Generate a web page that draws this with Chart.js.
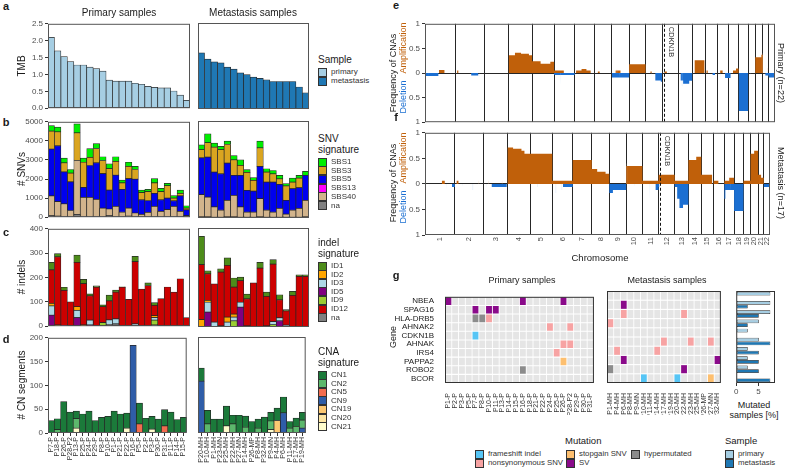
<!DOCTYPE html>
<html>
<head>
<meta charset="utf-8">
<title>Mutational landscape overview</title>
<script src="https://cdn.jsdelivr.net/npm/chart.js@4.4.1/dist/chart.umd.min.js"></script>
<style>
  body { margin: 0; background: #fff; }
  #page { position: relative; width: 785px; height: 470px; overflow: hidden;
          font-family: "Liberation Sans", Arial, sans-serif; color: #1a1a1a; }
  .lbl { position: absolute; white-space: nowrap; line-height: 1; }
  .sw { position: absolute; width: 7px; height: 7px; border: 1px solid #333; }
</style>
</head>
<body>
<div id="page"></div>
<script>
// ---------------- data ----------------
const primaryIds = ['P7-P','P18-P','P26-P','P28-P2','P13-P','P25-P','P24-P','P29-P','P8-P','P10-P','P1-P',
  'P21-P','P22-P','P16-P','P5-P','P2-P','P3-P','P30-P','P31-P','P11-P','P14-P','P15-P'];
const metaIds = ['P20-MH','P10-MH','P1-MH','P23-MN','P25-MH','P22-MH','P27-MN','P14-MH','P26-MP','P8-MH',
  'P32-MH','P9-MN','P4-MH','P6-MH','P11-MH','P17-MH','P19-MH'];

// panel a: tumour mutational burden
const tmbPrimary = [2.10,1.70,1.53,1.38,1.28,1.28,1.22,1.17,1.10,0.83,0.80,0.80,0.80,0.74,0.71,0.65,0.62,0.60,0.60,0.51,0.39,0.23];
const tmbMeta = [1.63,1.45,1.37,1.34,1.22,1.16,1.05,1.00,0.93,0.89,0.85,0.80,0.80,0.80,0.80,0.64,0.47];

// panel b: SNV signatures (counts)
const snvNaP    = [80,60,40,40,150,50,40,40,40,80,40,40,60,40,30,40,50,40,40,40,40,20];
const snvS40P   = [1035,760,660,310,2820,995,1005,900,440,350,530,220,420,180,120,210,520,270,360,530,270,60];
const snvS13P   = [0,0,0,0,0,0,0,0,0,0,0,0,0,0,0,0,0,0,0,0,0,0];
const snvS5P    = [2455,2920,1670,1500,0,515,1665,1910,1800,990,1630,1200,1540,1770,760,625,680,600,600,290,805,300];
const snvS3P    = [940,737,480,465,1455,1320,430,750,690,1120,730,340,640,510,380,465,550,430,650,140,135,100];
const snvS1P    = [290,240,250,185,465,220,460,260,200,260,240,140,220,160,130,120,220,170,120,130,170,120];
const snvNaM    = [60,60,40,40,60,60,40,40,40,60,40,40,40,40,40,40,60];
const snvS40M   = [1140,1020,530,360,850,1110,530,260,260,940,360,260,460,160,360,460,850];
const snvS13M   = [0,0,0,0,0,0,0,0,0,0,0,0,0,0,0,0,0];
const snvS5M    = [1900,2060,1800,1880,1920,1030,1630,1120,1090,1660,1450,1550,1230,710,1110,1060,1290];
const snvS3M    = [420,740,1280,1240,960,800,510,930,550,960,520,430,290,740,340,500,0];
const snvS1M    = [250,460,210,170,170,220,290,140,140,340,170,170,180,120,210,140,200];

// panel c: indel signatures (counts)
const idNaP  = [0,0,0,0,0,0,0,0,0,8,10,0,0,0,0,0,5,0,0,0,0,0];
const id5P   = [45,0,3,0,35,0,5,0,0,0,0,0,0,0,0,0,0,0,0,0,0,0];
const id9P   = [0,0,0,0,0,0,0,0,15,0,0,0,0,0,0,0,20,0,0,0,0,0];
const id3P   = [38,0,0,0,30,0,20,0,0,18,20,0,0,10,0,0,10,0,0,0,0,0];
const id2P   = [11,5,0,0,15,5,0,0,0,0,0,0,0,0,0,0,8,0,0,0,0,0];
const id12P  = [137,280,144,100,182,170,100,160,65,78,110,160,110,255,152,167,43,113,161,140,195,35];
const id1P   = [31,13,13,0,30,17,8,6,8,24,8,2,0,22,0,11,11,0,0,0,0,0];
const idNaM  = [0,0,0,0,0,0,0,0,0,0,0,0,0,0,0,0,0];
const id5M   = [0,60,0,0,0,0,80,0,0,0,0,0,25,0,0,0,0];
const id9M   = [0,0,0,0,0,25,0,0,0,0,0,10,0,0,0,0,0];
const id3M   = [0,40,20,0,20,15,20,0,0,0,5,12,12,8,0,0,0];
const id2M   = [30,8,0,5,20,12,0,5,0,0,0,0,0,0,0,0,0];
const id12M  = [222,107,154,217,209,109,87,109,178,238,119,232,73,57,128,205,205];
const id1M   = [114,12,0,13,30,37,15,19,0,23,17,18,20,5,16,6,6];

// panel d: copy-number signatures (segments)
const cn21P = [0,0,0,0,10,0,0,0,0,0,0,0,10,0,0,0,8,0,0,0,0,0];
const cn9P  = [0,0,0,0,0,0,0,0,0,0,0,0,0,184,0,0,0,0,0,0,0,0];
const cn5P  = [0,0,0,0,0,0,0,0,0,0,0,0,0,0,19,0,0,0,15,0,0,0];
const cn2P  = [0,7,0,0,20,0,0,0,0,0,0,0,0,0,0,0,0,0,0,0,0,0];
const cn1P  = [26,23,66,44,16,40,46,26,33,35,46,40,32,0,44,31,27,29,34,44,28,33];
const cn21M = [0,0,0,0,15,0,0,0,0,0,0,7,0,0,0,0,0];
const cn19M = [0,0,0,0,0,0,0,0,0,0,0,0,26,0,0,0,0];
const cn9M  = [108,0,0,0,0,0,0,0,0,0,0,0,0,42,0,0,10];
const cn2M  = [0,19,0,0,0,19,0,12,0,10,0,18,0,0,10,14,17];
const cn1M  = [27,28,29,29,41,18,37,23,24,19,33,18,26,33,14,17,16];

// panels e/f: CNA frequency segments [chromosome, start Mb, end Mb, frequency]
const chrLen = [249.3,243.2,198.0,191.2,180.9,171.1,159.1,146.4,141.2,135.5,135.0,133.9,115.2,107.3,102.5,90.4,81.2,78.1,59.1,63.0,48.1,51.3];
const cdkn1b = [12, 12.9];
const ampPrimary = [[1,115,160,0.06],[2,15,25,0.05],[4,0,50,0.36],[4,50,100,0.41],[4,100,165,0.39],[4,165,191,0.36],
  [5,0,70,0.24],[5,70,150,0.19],[5,150,181,0.23],[6,0,80,0.05],[7,10,55,0.05],[7,55,95,0.08],[7,95,130,0.05],
  [8,30,45,0.03],[9,30,70,0.05],[10,0,135,0.18],[11,40,50,0.03],[12,20,40,0.03],[14,20,100,0.26],[15,10,20,0.05],
  [16,20,40,0.05],[17,35,60,0.05],[17,60,81,0.09],[20,0,50,0.32],[20,50,63,0.37]];
const delPrimary = [[1,0,110,0.06],[2,131,189,0.05],[6,0,170,0.04],[9,0,141,0.09],[11,80,125,0.15],[11,125,135,0.18],
  [13,20,40,0.15],[13,40,90,0.22],[13,90,115,0.16],[15,60,80,0.04],[16,60,90,0.1],[17,0,15,0.1],[18,2,78,0.77],
  [21,20,48,0.05],[22,0,51,0.09]];
const ampSpikesPrimary = [[1,20,22,0.05],[1,60,62,0.06],[2,60,62,0.12],[2,105,107,0.2],[3,95,97,0.05],[3,150,152,0.07],
  [5,165,167,0.32],[7,60,62,0.12],[9,40,42,0.07],[11,30,32,0.09],[12,60,62,0.05],[14,10,12,0.3],[15,20,22,0.08],
  [17,70,72,0.12],[20,55,57,0.4],[21,40,42,0.1]];
const delSpikesPrimary = [[1,30,32,0.12],[2,200,202,0.1],[6,50,52,0.27],[9,60,62,0.1],[11,50,52,0.08],[13,30,32,0.27],
  [16,20,22,0.12],[19,20,22,0.06],[21,10,12,0.1]];
const ampMeta = [[1,140,165,0.06],[2,15,30,0.06],[4,0,45,0.71],[4,45,115,0.69],[4,115,140,0.65],[4,140,191,0.59],
  [5,0,181,0.59],[6,0,171,0.06],[7,0,159,0.47],[8,0,45,0.29],[8,45,115,0.24],[8,115,146,0.2],[10,0,135,0.35],
  [11,0,135,0.06],[12,0,134,0.18],[13,0,115,0.06],[14,0,65,0.47],[14,65,107,0.53],[15,0,90,0.18],[16,0,40,0.06],
  [17,0,40,0.06],[17,40,81,0.12],[19,0,59,0.06],[20,0,30,0.59],[20,30,63,0.65],[21,0,25,0.18],[21,25,48,0.12]];
const delMeta = [[1,225,249,0.06],[3,65,190,0.06],[6,90,171,0.06],[9,0,30,0.18],[9,30,141,0.12],[11,110,135,0.12],
  [12,0,5,0.06],[13,0,21,0.06],[13,21,40,0.29],[13,40,70,0.47],[13,70,115,0.41],[17,0,8,0.29],[17,8,81,0.12],
  [18,0,78,0.53],[22,0,51,0.06]];
const ampSpikesMeta = [[1,55,57,0.12],[1,120,122,0.1],[2,40,42,0.1],[2,200,202,0.06],[3,40,42,0.06],[3,150,152,0.06],
  [4,100,102,0.72],[5,100,102,0.62],[6,160,162,0.17],[7,80,82,0.5],[10,5,7,0.4],[11,30,32,0.12],[12,5,7,0.22],
  [14,40,42,0.59],[16,60,62,0.06],[20,25,27,0.7],[21,10,12,0.18]];
const delSpikesMeta = [[1,40,42,0.06],[1,180,182,0.12],[2,60,62,0.06],[2,150,152,0.12],[3,20,22,0.1],[5,60,62,0.06],
  [6,30,32,0.18],[6,80,82,0.12],[10,70,72,0.06],[11,60,62,0.35],[17,50,52,0.18],[18,75,77,0.6]];

// panel g: recurrently mutated genes
const genes = ['NBEA','SPAG16','HLA-DRB5','AHNAK2','CDKN1B','AHNAK','IRS4','PAPPA2','ROBO2','BCOR'];
const heatPrimaryIds = ['P1-P','P2-P','P3-P','P5-P','P7-P','P8-P','P10-P','P11-P','P13-P','P14-P','P15-P','P16-P',
  'P18-P','P21-P','P22-P','P24-P','P25-P','P26-P','P28-P2','P29-P','P30-P','P31-P'];
const heatMetaIds = ['P1-MH','P4-MH','P6-MH','P8-MH','P9-MN','P10-MH','P11-MH','P14-MH','P17-MH','P19-MH','P20-MH',
  'P22-MH','P23-MH','P25-MH','P26-MP','P27-MN','P32-MH'];
const mutPrimary = [['NBEA','P1-P','SV'],['NBEA','P16-P','SV'],['NBEA','P26-P','SV'],
  ['SPAG16','P7-P','SV'],['SPAG16','P10-P','SV'],['SPAG16','P11-P','SV'],
  ['HLA-DRB5','P7-P','hyper'],['HLA-DRB5','P8-P','hyper'],['HLA-DRB5','P10-P','nonsyn'],
  ['AHNAK2','P24-P','nonsyn'],['AHNAK2','P28-P2','nonsyn'],['CDKN1B','P7-P','frameshift'],
  ['AHNAK','P26-P','nonsyn'],['AHNAK','P28-P2','nonsyn'],['IRS4','P25-P','nonsyn'],
  ['PAPPA2','P26-P','stopgain'],['ROBO2','P16-P','hyper']];
const mutMeta = [['SPAG16','P6-MH','SV'],['HLA-DRB5','P6-MH','nonsyn'],['HLA-DRB5','P22-MH','nonsyn'],
  ['AHNAK2','P1-MH','nonsyn'],['AHNAK','P17-MH','nonsyn'],['AHNAK','P23-MH','nonsyn'],['AHNAK','P27-MN','nonsyn'],
  ['IRS4','P4-MH','nonsyn'],['IRS4','P14-MH','nonsyn'],['PAPPA2','P6-MH','SV'],['PAPPA2','P32-MH','SV'],
  ['ROBO2','P1-MH','hyper'],['ROBO2','P22-MH','SV'],['BCOR','P10-MH','frameshift'],['BCOR','P20-MH','frameshift'],
  ['BCOR','P27-MN','stopgain']];
const pctPrimary = [7.7,7.7,7.7,5.1,2.6,5.1,2.6,2.6,2.6,0];
const pctMeta = [0,2.6,5.1,2.6,0,7.7,5.1,5.1,5.1,7.7];

// ---------------- colours ----------------
const colPrimary = '#a6cee3', colMeta = '#1f78b4';
const snvCols = { SBS1: '#00ee00', SBS3: '#daa520', SBS5: '#0000ee', SBS13: '#ff00ff', SBS40: '#d2b48c', na: '#808080' };
const idCols = { ID1: '#4d8c1a', ID2: '#ffa500', ID3: '#add8e6', ID5: '#800080', ID9: '#9acd32', ID12: '#cc0000', na: '#808080' };
const cnCols = { CN1: '#1b7a3a', CN2: '#5cb86c', CN5: '#f26c4f', CN9: '#2f5da8', CN19: '#fdc872', CN20: '#fee6a3', CN21: '#fffccc' };
const ampCol = '#c0600a', delCol = '#1b6fd2';
const mutCols = { frameshift: '#56c5f5', nonsyn: '#f7a3a3', stopgain: '#fdbf6f', SV: '#8a0a8a', hyper: '#8c8c8c' };

// ---------------- helpers ----------------
const page = document.getElementById('page');

function canvasAt(x, y, w, h) {
  const c = document.createElement('canvas');
  c.width = w; c.height = h;
  Object.assign(c.style, { position: 'absolute', left: x + 'px', top: y + 'px', width: w + 'px', height: h + 'px' });
  page.appendChild(c);
  return c;
}

function text(s, x, y, o) {
  o = o || {};
  const d = document.createElement('div');
  d.className = 'lbl';
  d.innerHTML = s;
  d.style.left = x + 'px';
  d.style.top = y + 'px';
  d.style.fontSize = (o.size || 9) + 'px';
  if (o.color) d.style.color = o.color;
  if (o.bold) d.style.fontWeight = 'bold';
  let tf = o.left ? 'translate(0,-50%)' : 'translate(-50%,-50%)';
  if (o.rot) tf += ' rotate(' + o.rot + 'deg)';
  d.style.transform = tf;
  page.appendChild(d);
}

function swatch(x, y, col) {
  const d = document.createElement('div');
  d.className = 'sw';
  d.style.left = x + 'px';
  d.style.top = (y - 4.5) + 'px';
  d.style.background = col;
  page.appendChild(d);
}

function legend(x, y, title, items, step) {
  title.forEach((t, i) => text(t, x, y + i * 11, { size: 10, left: true }));
  let yy = y + title.length * 11 + 1;
  items.forEach(([name, col]) => {
    swatch(x, yy, col);
    text(name, x + 13, yy, { size: 8, left: true, color: '#333' });
    yy += step;
  });
}

Chart.defaults.font.family = '"Liberation Sans", Arial, sans-serif';
Chart.defaults.font.size = 8;
Chart.defaults.color = '#4d4d4d';
Chart.defaults.animation = false;
Chart.defaults.events = [];
Chart.defaults.plugins.legend.display = false;
Chart.defaults.plugins.tooltip.enabled = false;

// panel border, like a ggplot panel.border
Chart.register({
  id: 'frame',
  defaults: { color: '#555', width: 1 },
  afterDraw(chart, args, opts) {
    const a = chart.chartArea, ctx = chart.ctx;
    ctx.save();
    ctx.strokeStyle = opts.color;
    ctx.lineWidth = opts.width;
    ctx.strokeRect(a.left + 0.5, a.top + 0.5, a.right - a.left - 1, a.bottom - a.top - 1);
    ctx.restore();
  }
});

// stacked bar panel (a-d)
function stackPanel(x, y, w, h, labels, sets, yTicks, showY, fmt, xH) {
  const aw = showY ? 34 : 0, padT = 6, padR = 3, padB = xH ? 0 : 6;
  const cv = canvasAt(x - aw, y - padT, w + aw + padR, h + padT + (xH || padB));
  new Chart(cv, {
    type: 'bar',
    data: {
      labels,
      datasets: sets.map(([data, color]) => ({
        data, backgroundColor: color, borderColor: '#262626', borderWidth: 0.7,
        borderSkipped: false, categoryPercentage: 1, barPercentage: 1
      }))
    },
    options: {
      responsive: false,
      layout: { padding: { top: padT, right: padR, bottom: padB, left: 0 } },
      scales: {
        x: {
          stacked: true, display: !!xH, border: { display: false },
          grid: { offset: false, drawOnChartArea: false, tickLength: 3, tickColor: '#333' },
          ticks: { autoSkip: false, minRotation: 90, maxRotation: 90, padding: 1, font: { size: 7 }, color: '#333' },
          afterFit: s => { s.height = xH; }
        },
        y: {
          stacked: true, min: 0, max: yTicks[yTicks.length - 1], display: showY, border: { display: false },
          grid: { drawOnChartArea: false, tickLength: 3, tickColor: '#333' },
          afterBuildTicks: s => { s.ticks = yTicks.map(v => ({ value: v })); },
          ticks: { padding: 2, callback: fmt },
          afterFit: s => { s.width = aw; }
        }
      }
    }
  });
}

// chromosome coordinates
const chrStart = [];
chrLen.reduce((acc, l, i) => { chrStart[i] = acc; return acc + l; }, 0);
const genomeLen = chrLen.reduce((a, b) => a + b, 0);
const chrBounds = chrStart.slice(1);
const chrMids = chrStart.map((s, i) => s + chrLen[i] / 2);

function segPoints(segs, sign) {
  const pts = [];
  segs.map(([c, s, e, f]) => [chrStart[c - 1] + s, chrStart[c - 1] + e, f])
    .sort((a, b) => a[0] - b[0])
    .forEach(([x0, x1, f]) => {
      pts.push({ x: x0, y: 0 }, { x: x0, y: sign * f }, { x: x1, y: sign * f }, { x: x1, y: 0 });
    });
  return pts;
}

function cnaPanel(y, h, amp, del, ampSp, delSp, showChr) {
  const aw = 20, padT = 6, xH = showChr ? 14 : 0, padB = showChr ? 0 : 6;
  const cv = canvasAt(425 - aw, y - padT, 350 + aw + 3, h + padT + (showChr ? xH : padB));
  const area = (data, color) => ({ data, showLine: true, fill: 'origin', pointRadius: 0, borderWidth: 0, backgroundColor: color });
  const markX = chrStart[cdkn1b[0] - 1] + cdkn1b[1];
  new Chart(cv, {
    type: 'scatter',
    data: {
      datasets: [
        area(segPoints(ampSp, 1), '#efc4a0'), area(segPoints(delSp, -1), '#a9c9ef'),
        area(segPoints(amp, 1), ampCol), area(segPoints(del, -1), delCol)
      ]
    },
    options: {
      responsive: false,
      layout: { padding: { top: padT, right: 3, bottom: padB, left: 0 } },
      scales: {
        x: {
          type: 'linear', min: 0, max: genomeLen, border: { display: false },
          grid: { color: '#262626', lineWidth: 1, drawTicks: false },
          ticks: { display: false },
          afterBuildTicks: s => { s.ticks = chrBounds.map(v => ({ value: v })); },
          afterFit: s => { s.height = 0; }
        },
        xc: {
          type: 'linear', position: 'bottom', min: 0, max: genomeLen, display: showChr, border: { display: false },
          grid: { drawOnChartArea: false, drawTicks: false },
          afterBuildTicks: s => { s.ticks = chrMids.map(v => ({ value: v })); },
          ticks: { autoSkip: false, minRotation: 90, maxRotation: 90, padding: 2, font: { size: 7.5 },
                   callback: (v, i) => String(i + 1) },
          afterFit: s => { s.height = xH; }
        },
        y: {
          min: -1, max: 1, border: { display: false },
          grid: { color: c => (c.tick && c.tick.value === 0 ? '#262626' : 'rgba(0,0,0,0)'), tickColor: '#333', tickLength: 3 },
          afterBuildTicks: s => { s.ticks = [-1, -0.5, 0, 0.5, 1].map(v => ({ value: v })); },
          ticks: { padding: 2, callback: v => String(Math.abs(v)) },
          afterFit: s => { s.width = aw; }
        }
      }
    },
    plugins: [{
      id: 'cdkn',
      afterDatasetsDraw(chart) {
        const { ctx, chartArea: a } = chart;
        const px = Math.round(chart.scales.x.getPixelForValue(markX)) + 0.5;
        ctx.save();
        ctx.strokeStyle = '#111';
        ctx.lineWidth = 1;
        ctx.setLineDash([3, 2]);
        ctx.beginPath(); ctx.moveTo(px, a.top); ctx.lineTo(px, a.bottom); ctx.stroke();
        ctx.translate(px + 3, a.top + 3);
        ctx.rotate(Math.PI / 2);
        ctx.font = '7.5px "Liberation Sans", Arial, sans-serif';
        ctx.fillStyle = '#333';
        ctx.textBaseline = 'bottom';
        ctx.fillText('CDKN1B', 0, 0);
        ctx.restore();
      }
    }]
  });
}

function heatPanel(x, y, w, h, ids, muts, showGenes) {
  const aw = showGenes ? 52 : 0, xH = 32;
  const cv = canvasAt(x - aw, y - 2, w + aw + 2, h + 2 + xH);
  const typeOf = (g, s) => { const m = muts.find(r => r[0] === g && r[1] === s); return m ? m[2] : null; };
  new Chart(cv, {
    type: 'bar',
    data: {
      labels: ids,
      datasets: genes.map((g, gi) => ({
        data: ids.map(() => [gi + 0.06, gi + 0.94]),
        backgroundColor: ids.map(s => { const t = typeOf(g, s); return t ? mutCols[t] : '#e5e5e5'; }),
        borderWidth: 0, categoryPercentage: 1, barPercentage: 0.87, grouped: false
      }))
    },
    options: {
      responsive: false,
      layout: { padding: { top: 2, right: 2, bottom: 0, left: 0 } },
      plugins: { frame: { color: '#333' } },
      scales: {
        x: {
          border: { display: false }, grid: { display: false },
          ticks: { autoSkip: false, minRotation: 90, maxRotation: 90, padding: 2, font: { size: 7 }, color: '#333' },
          afterFit: s => { s.height = xH; }
        },
        y: {
          min: 0, max: genes.length, reverse: true, display: showGenes,
          border: { display: false }, grid: { display: false },
          afterBuildTicks: s => { s.ticks = genes.map((g, i) => ({ value: i + 0.5 })); },
          ticks: { autoSkip: false, padding: 3, font: { size: 8 }, color: '#1a1a1a', callback: (v, i) => genes[i] },
          afterFit: s => { s.width = aw; }
        }
      }
    }
  });
}

// ---------------- panels a-d ----------------
const fmt1 = v => v.toFixed(1), fmt0 = v => String(v);
const PX = 48, PW = 142, MX = 198, MW = 111;

stackPanel(PX, 23, PW, 86, primaryIds, [[tmbPrimary, colPrimary]], [0, 0.5, 1, 1.5, 2, 2.5], true, fmt1, 0);
stackPanel(MX, 23, MW, 86, metaIds, [[tmbMeta, colMeta]], [0, 0.5, 1, 1.5, 2, 2.5], false, fmt1, 0);

const snvSetsP = [[snvNaP, snvCols.na], [snvS40P, snvCols.SBS40], [snvS13P, snvCols.SBS13], [snvS5P, snvCols.SBS5], [snvS3P, snvCols.SBS3], [snvS1P, snvCols.SBS1]];
const snvSetsM = [[snvNaM, snvCols.na], [snvS40M, snvCols.SBS40], [snvS13M, snvCols.SBS13], [snvS5M, snvCols.SBS5], [snvS3M, snvCols.SBS3], [snvS1M, snvCols.SBS1]];
stackPanel(PX, 121, PW, 97, primaryIds, snvSetsP, [0, 1000, 2000, 3000, 4000, 5000], true, fmt0, 0);
stackPanel(MX, 121, MW, 97, metaIds, snvSetsM, [0, 1000, 2000, 3000, 4000, 5000], false, fmt0, 0);

const idSetsP = [[idNaP, idCols.na], [id5P, idCols.ID5], [id9P, idCols.ID9], [id3P, idCols.ID3], [id2P, idCols.ID2], [id12P, idCols.ID12], [id1P, idCols.ID1]];
const idSetsM = [[idNaM, idCols.na], [id5M, idCols.ID5], [id9M, idCols.ID9], [id3M, idCols.ID3], [id2M, idCols.ID2], [id12M, idCols.ID12], [id1M, idCols.ID1]];
stackPanel(PX, 228, PW, 99, primaryIds, idSetsP, [0, 100, 200, 300, 400], true, fmt0, 0);
stackPanel(MX, 228, MW, 99, metaIds, idSetsM, [0, 100, 200, 300, 400], false, fmt0, 0);

const cnSetsP = [[cn21P, cnCols.CN21], [cn9P, cnCols.CN9], [cn5P, cnCols.CN5], [cn2P, cnCols.CN2], [cn1P, cnCols.CN1]];
const cnSetsM = [[cn21M, cnCols.CN21], [cn19M, cnCols.CN19], [cn9M, cnCols.CN9], [cn2M, cnCols.CN2], [cn1M, cnCols.CN1]];
stackPanel(PX, 337, PW, 96, primaryIds, cnSetsP, [0, 50, 100, 150, 200], true, fmt0, 36);
stackPanel(MX, 337, MW, 96, metaIds, cnSetsM, [0, 50, 100, 150, 200], false, fmt0, 36);

// ---------------- panels e-f ----------------
cnaPanel(23, 100, ampPrimary, delPrimary, ampSpikesPrimary, delSpikesPrimary, false);
cnaPanel(132, 103, ampMeta, delMeta, ampSpikesMeta, delSpikesMeta, true);

// ---------------- panel g ----------------
heatPanel(445, 291, 154, 92, heatPrimaryIds, mutPrimary, true);
heatPanel(607, 291, 119, 92, heatMetaIds, mutMeta, false);

new Chart(canvasAt(733, 289, 46, 110), {
  type: 'bar',
  data: {
    labels: genes,
    datasets: [
      { data: pctPrimary, backgroundColor: colPrimary },
      { data: pctMeta, backgroundColor: colMeta }
    ].map(d => Object.assign(d, { borderColor: '#222', borderWidth: 0.7, borderSkipped: false, categoryPercentage: 0.82, barPercentage: 1 }))
  },
  options: {
    responsive: false, indexAxis: 'y',
    layout: { padding: { top: 2, right: 4, bottom: 0, left: 0 } },
    plugins: { frame: { color: '#333' } },
    scales: {
      y: { display: false },
      x: {
        min: 0, max: 8.75, border: { display: false },
        grid: { drawOnChartArea: false, tickLength: 3, tickColor: '#333' },
        afterBuildTicks: s => { s.ticks = [0, 5].map(v => ({ value: v })); },
        ticks: { padding: 1, font: { size: 8 } },
        afterFit: s => { s.height = 16; }
      }
    }
  }
});

// ---------------- text, titles, legends ----------------
[['a', 6], ['b', 122], ['c', 232], ['d', 339]].forEach(([l, y]) => text(l, 6, y, { size: 11, bold: true }));
[['e', 5], ['f', 117], ['g', 275]].forEach(([l, y]) => text(l, 396, y, { size: 11, bold: true }));

text('Primary samples', 119, 13, { size: 10 });
text('Metastasis samples', 253, 13, { size: 10 });
text('TMB', 22, 66, { size: 10, rot: -90 });
text('# SNVs', 22, 169, { size: 10, rot: -90 });
text('# indels', 22, 277, { size: 10, rot: -90 });
text('# CN segments', 22, 385, { size: 10, rot: -90 });

legend(318, 60, ['Sample'], [['primary', colPrimary], ['metastasis', colMeta]], 9);
legend(318, 139, ['SNV', 'signature'], Object.keys(snvCols).map(k => [k, snvCols[k]]), 8.7);
legend(318, 243, ['indel', 'signature'], Object.keys(idCols).map(k => [k, idCols[k]]), 8.6);
legend(318, 352, ['CNA', 'signature'], Object.keys(cnCols).map(k => [k, cnCols[k]]), 8.6);

// e / f axis titles
[[73, 'Primary (n=22)'], [183, 'Metastasis (n=17)']].forEach(([y0, side]) => {
  text('Frequency of CNAs', 393, y0, { size: 9, rot: -90 });
  text('Amplification', 403, y0 - 25, { size: 9, rot: -90, color: ampCol });
  text('Deletion', 403, y0 + 24, { size: 9, rot: -90, color: delCol });
  text(side, 780, y0, { size: 9, rot: 90 });
});
text('Chromosome', 600, 258, { size: 9.5 });

// g titles
text('Primary samples', 522, 280, { size: 9 });
text('Metastasis samples', 667, 280, { size: 9 });
text('Gene', 393, 337, { size: 9, rot: -90 });
text('Mutated', 754, 405, { size: 9 });
text('samples [%]', 754, 415, { size: 9 });

const legS = { size: 7.8, left: true, color: '#333' };
text('Mutation', 565, 441, { size: 9.5, left: true });
swatch(475, 454, mutCols.frameshift); text('frameshift indel', 488, 454, legS);
swatch(475, 463, mutCols.nonsyn); text('nonsynonymous SNV', 488, 463, legS);
swatch(566, 454, mutCols.stopgain); text('stopgain SNV', 579, 454, legS);
swatch(566, 463, mutCols.SV); text('SV', 579, 463, legS);
swatch(631, 454, mutCols.hyper); text('hypermutated', 644, 454, legS);

text('Sample', 725, 441, { size: 9.5, left: true });
swatch(725, 454, colPrimary); text('primary', 738, 454, legS);
swatch(725, 463, colMeta); text('metastasis', 738, 463, legS);
</script>
</body>
</html>
